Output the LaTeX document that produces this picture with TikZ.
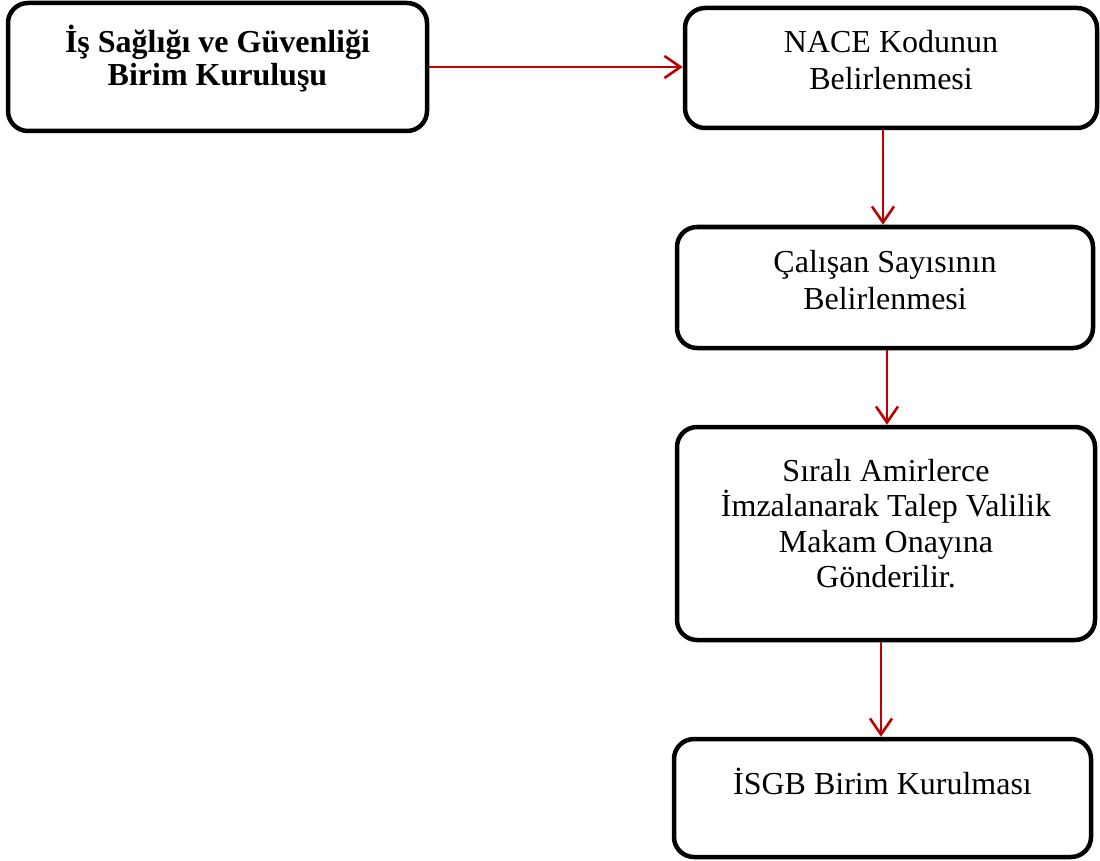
\documentclass[tikz,border=0pt]{standalone}
\usepackage{fontspec}
\setmainfont{Liberation Serif}
\usetikzlibrary{arrows.meta}
\definecolor{flowred}{HTML}{C00000}
\begin{document}
\begin{tikzpicture}[x=1pt,y=-1pt,
  stepbox/.style={draw=black,line width=4.5pt,rounded corners=20pt,inner sep=0pt,fill=white},
  boxtext/.style={anchor=base,align=center,inner sep=0pt,font=\fontsize{32}{37}\selectfont},
  flow/.style={draw=flowred,line width=2.6pt,-{Straight Barb[length=16pt,width=22pt,line width=2.6pt]}}]
\useasboundingbox (0,0) rectangle (1100,861);

% process boxes
\node[stepbox,minimum width=419pt,minimum height=128pt] (b1) at (217.5,67) {};
\node[stepbox,minimum width=412pt,minimum height=120pt] (b2) at (891,68) {};
\node[stepbox,minimum width=416pt,minimum height=121pt] (b3) at (885,287.5) {};
\node[stepbox,minimum width=418pt,minimum height=213pt] (b4) at (886,533.5) {};
\node[stepbox,minimum width=417pt,minimum height=118pt] (b5) at (882.5,798) {};

% box captions (anchored at the baseline of the last line)
\node[boxtext,font=\fontsize{32}{33}\selectfont\bfseries] (t1) at ([yshift=-85pt]b1.north) {İş Sağlığı ve Güvenliği\\Birim Kuruluşu};
\node[boxtext] (t2) at ([yshift=-84pt]b2.north) {NACE Kodunun\\Belirlenmesi};
\node[boxtext] (t3) at ([yshift=-85pt]b3.north) {Çalışan Sayısının\\Belirlenmesi};
\node[boxtext,font=\fontsize{32}{35.5}\selectfont] (t4) at ([yshift=-163pt]b4.north) {Sıralı Amirlerce\\İmzalanarak Talep Valilik\\Makam Onayına\\Gönderilir.};
\node[boxtext] (t5) at ([yshift=-58pt]b5.north) {İSGB Birim Kurulması};

% connectors
\coordinate (c2) at (883,0);
\coordinate (c3) at (887,0);
\coordinate (c4) at (881,0);
\draw[flow] (b1.east) -- (b1.east -| b2.west);
\draw[flow] (b2.south -| c2) -- (b3.north -| c2);
\draw[flow] (b3.south -| c3) -- (b4.north -| c3);
\draw[flow] (b4.south -| c4) -- (b5.north -| c4);
\end{tikzpicture}
\end{document}
